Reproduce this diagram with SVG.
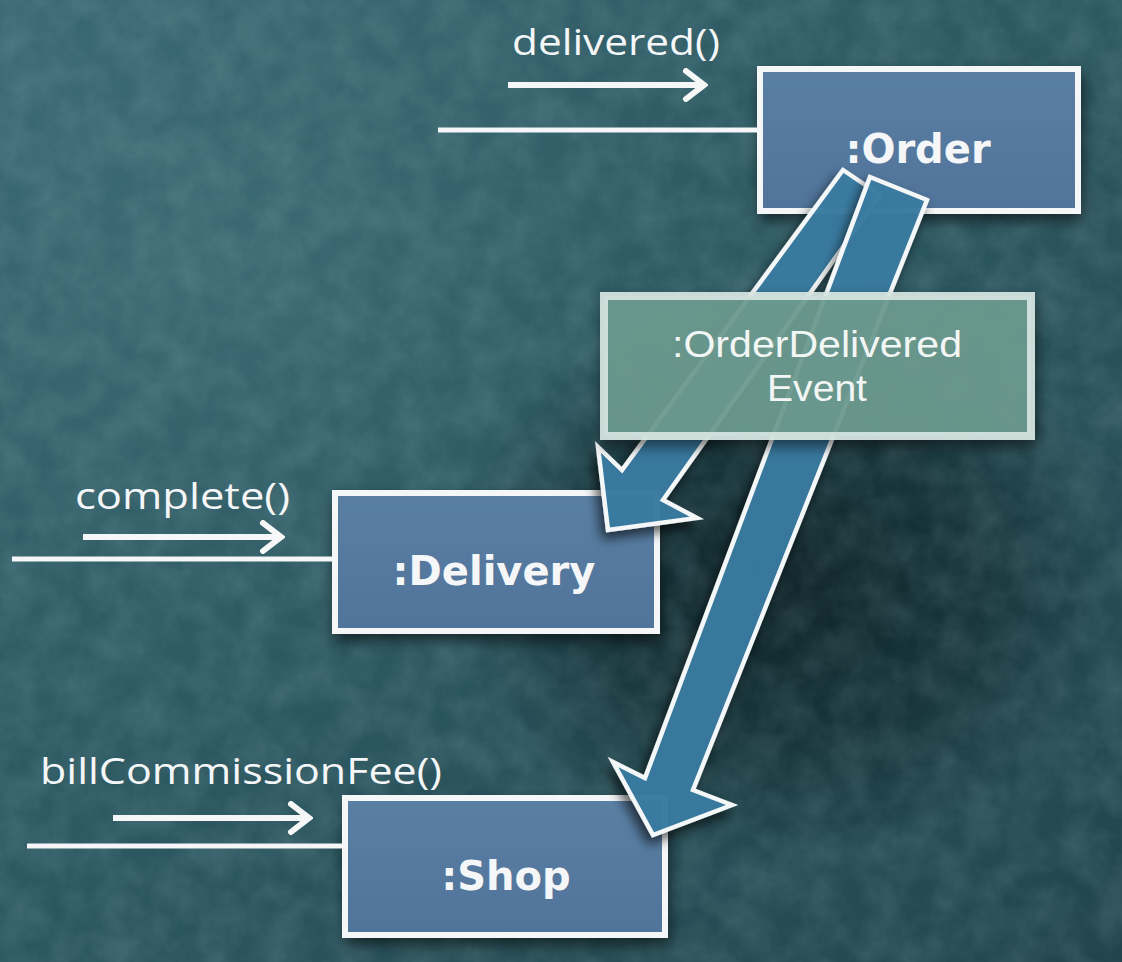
<svg xmlns="http://www.w3.org/2000/svg" width="1122" height="962" viewBox="0 0 1122 962">
<defs>
  <linearGradient id="bg" x1="0" y1="0" x2="1" y2="1">
    <stop offset="0" stop-color="#376570"/>
    <stop offset="0.45" stop-color="#2d5962"/>
    <stop offset="1" stop-color="#22454d"/>
  </linearGradient>
  <radialGradient id="dark" cx="0.7" cy="0.6" r="0.3">
    <stop offset="0" stop-color="#081a1e" stop-opacity="0.85"/>
    <stop offset="0.6" stop-color="#081a1e" stop-opacity="0.45"/>
    <stop offset="1" stop-color="#081a1e" stop-opacity="0"/>
  </radialGradient>
  <radialGradient id="light" cx="0.2" cy="0.25" r="0.4">
    <stop offset="0" stop-color="#4a7880" stop-opacity="0.4"/>
    <stop offset="1" stop-color="#4a7880" stop-opacity="0"/>
  </radialGradient>
  <linearGradient id="boxfill" x1="0" y1="0" x2="0" y2="1">
    <stop offset="0" stop-color="#5a7fa3"/>
    <stop offset="1" stop-color="#50739a"/>
  </linearGradient>
  <filter id="noise" x="0" y="0" width="100%" height="100%">
    <feTurbulence type="fractalNoise" baseFrequency="0.03" numOctaves="4" seed="3"/>
    <feColorMatrix type="matrix" values="0 0 0 0 0.5  0 0 0 0 0.72  0 0 0 0 0.76  0 0 0 0.22 -0.06"/>
  </filter>
  <filter id="shadow" x="-30%" y="-30%" width="160%" height="160%">
    <feDropShadow dx="-4" dy="7" stdDeviation="6" flood-color="#000" flood-opacity="0.65"/>
  </filter>
  <filter id="boxshadow" x="-20%" y="-20%" width="140%" height="160%">
    <feDropShadow dx="2" dy="7" stdDeviation="7" flood-color="#000" flood-opacity="0.55"/>
  </filter>
  <marker id="head" viewBox="0 0 26 34" refX="23" refY="17" markerWidth="26" markerHeight="34" markerUnits="userSpaceOnUse" orient="auto">
    <path d="M4,3 L22,17 L4,31" fill="none" stroke="#f6f8f8" stroke-width="6" stroke-linecap="round" stroke-linejoin="miter"/>
  </marker>
  <style>
    .box { fill: url(#boxfill); stroke: #f4f6f7; stroke-width: 6; filter: url(#boxshadow); }
    .title { font-family: "DejaVu Sans", sans-serif; font-weight: bold; font-size: 40px; fill: #f4f6f7; text-anchor: middle; }
    .label { font-family: "Open Sans", "Liberation Sans", sans-serif; font-size: 36px; fill: #f4f6f7; }
    .wire { stroke: #f4f6f7; stroke-width: 5; fill: none; }
    .msg { stroke: #f4f6f7; stroke-width: 6; fill: none; marker-end: url(#head); }
    .big { fill: #3b7ca4; fill-opacity: 0.93; stroke: #f4f7f8; stroke-width: 4.5; stroke-linejoin: miter; filter: url(#shadow); }
    .evtext { font-family: "Liberation Sans", "Open Sans", sans-serif; font-size: 37px; fill: #f2f6f5; text-anchor: middle; }
  </style>
</defs>

<!-- background -->
<rect x="0" y="0" width="1122" height="962" fill="url(#bg)"/>
<rect x="0" y="0" width="1122" height="962" fill="url(#light)"/>
<rect x="0" y="0" width="1122" height="962" fill="url(#dark)"/>
<rect x="0" y="0" width="1122" height="962" filter="url(#noise)"/>

<g id="node-order">
  <rect class="box" x="760" y="69" width="318" height="142"/>
  <text class="title" x="918" y="163">:Order</text>
</g>

<g id="node-delivery">
  <rect class="box" x="335" y="493" width="322" height="138"/>
  <text class="title" x="494" y="585">:Delivery</text>
</g>

<g id="node-shop">
  <rect class="box" x="345" y="798" width="320" height="137"/>
  <text class="title" x="506" y="890">:Shop</text>
</g>

<g id="connectors">
  <!-- incoming message lines -->
  <line class="wire" x1="438" y1="130" x2="760" y2="130"/>
  <line class="msg" x1="508" y1="85" x2="705" y2="85"/>
  <text class="label" x="512" y="55" textLength="208" lengthAdjust="spacingAndGlyphs">delivered()</text>

  <line class="wire" x1="12" y1="559" x2="335" y2="559"/>
  <line class="msg" x1="83" y1="537" x2="282" y2="537"/>
  <text class="label" x="75" y="509" textLength="215" lengthAdjust="spacingAndGlyphs">complete()</text>

  <line class="wire" x1="27" y1="846" x2="345" y2="846"/>
  <line class="msg" x1="113" y1="818" x2="310" y2="818"/>
  <text class="label" x="40" y="784" textLength="402" lengthAdjust="spacingAndGlyphs">billCommissionFee()</text>

  <!-- event block arrows -->
  <path id="arrow-delivery" class="big" d="M843,170 L880,195 L663,500 L697,518 L608,530 L598,447 L622,470 Z"/>
  <path id="arrow-shop" class="big" d="M870,177 L927,200 L693,790 L732,805 L653,835 L613,762 L645,778 Z"/>
</g>

<g id="node-event">
  <rect x="604" y="296" width="427" height="140" fill="#6e9c91" fill-opacity="0.9" stroke="#d6e5e1" stroke-opacity="0.92" stroke-width="8" filter="url(#boxshadow)"/>
  <text class="evtext" x="817" y="357" textLength="290" lengthAdjust="spacingAndGlyphs">:OrderDelivered</text>
  <text class="evtext" x="817" y="401" textLength="100" lengthAdjust="spacingAndGlyphs">Event</text>
</g>
</svg>
